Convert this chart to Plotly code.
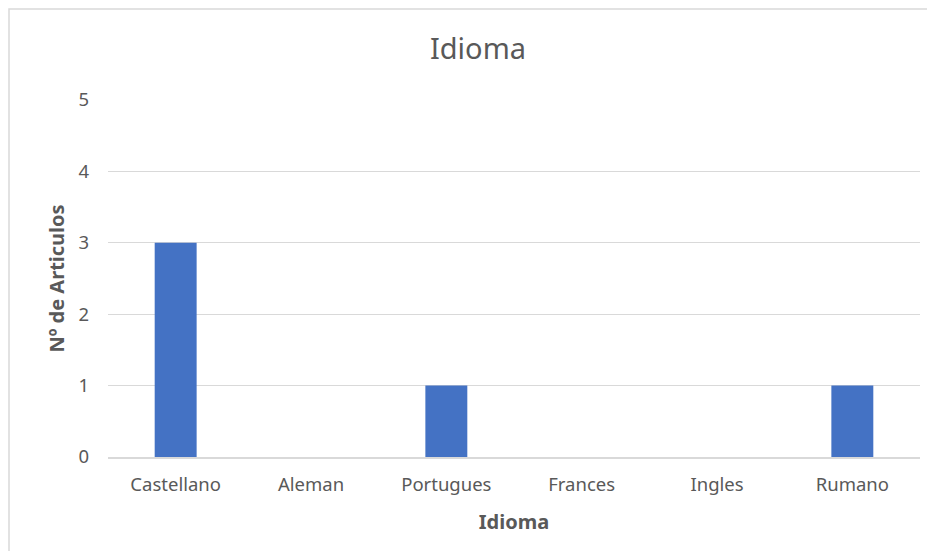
import plotly.graph_objects as go

categories = ["Castellano", "Aleman", "Portugues", "Frances", "Ingles", "Rumano"]
values = [3, 0, 1, 0, 0, 1]
y_ticks = [0, 1, 2, 3, 4, 5]

font_family = "Noto Sans, Open Sans, sans-serif"
grey = "#595959"

W, H = 919, 543
L, R, T, B = 100, 7, 92, 94
pw, ph = W - L - R, H - T - B

fig = go.Figure()
fig.add_trace(go.Bar(
    x=categories, y=values,
    marker=dict(color="#4472C4", line=dict(width=0)),
    width=0.31,
))

fig.update_layout(
    width=W, height=H,
    margin=dict(l=L, r=R, t=T, b=B),
    paper_bgcolor="white", plot_bgcolor="white",
    showlegend=False,
    font=dict(family=font_family, color=grey, size=19),
    title=dict(text="Idioma", x=470 / W, xanchor="center", y=1 - 41 / H, yanchor="middle",
               font=dict(size=29, color=grey, family=font_family)),
    xaxis=dict(
        title=dict(text="<b>Idioma</b>", font=dict(size=20, color=grey), standoff=20),
        showgrid=False, showline=True, linecolor="#d9d9d9", linewidth=1.5,
        ticks="", tickfont=dict(size=18.5, color=grey), ticklabelstandoff=10,
    ),
    yaxis=dict(
        title=dict(text="<b>Nº de Articulos</b>", font=dict(size=20, color=grey), standoff=8),
        range=[0, 5], tickvals=y_ticks, showgrid=True, gridcolor="#d9d9d9", gridwidth=1,
        zeroline=False, showline=False, ticks="", ticklabelstandoff=18,
        tickfont=dict(size=18.5, color=grey),
    ),
    shapes=[dict(type="rect", xref="paper", yref="paper",
                 x0=-(L - 1) / pw, x1=1.2, y0=-0.6, y1=1 + (T - 1) / ph,
                 line=dict(color="#d9d9d9", width=1.5), fillcolor="rgba(0,0,0,0)", layer="below")],
)

fig.write_html("out.html")
